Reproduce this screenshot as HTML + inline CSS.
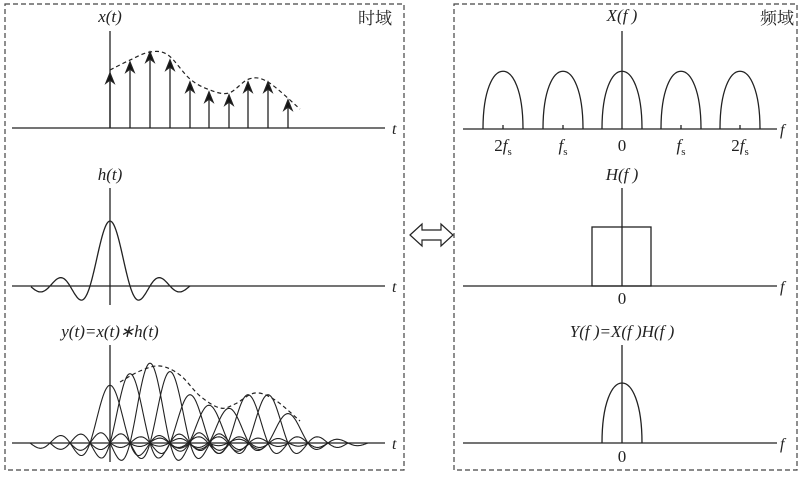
<!DOCTYPE html>
<html><head><meta charset="utf-8"><style>
html,body{margin:0;padding:0;background:#fff}
svg{display:block}
text{font-family:"Liberation Serif","Noto Serif CJK SC",serif;fill:#222}
.i{font-style:italic}
</style></head><body>
<svg id="s" width="802" height="477" viewBox="0 0 802 477" xmlns="http://www.w3.org/2000/svg">
<g fill="none" stroke="#444" stroke-width="1.2" stroke-dasharray="5,3">
<rect x="5" y="4" width="399" height="466"/>
<rect x="454" y="4" width="343" height="466"/>
</g>
<g stroke="#222" stroke-width="1.3" fill="none">
<line x1="12" y1="128" x2="385" y2="128"/>
<line x1="110" y1="31" x2="110" y2="128"/>
<line x1="12" y1="286" x2="385" y2="286"/>
<line x1="110" y1="188" x2="110" y2="305"/>
<line x1="12" y1="443" x2="385" y2="443"/>
<line x1="110" y1="345" x2="110" y2="462"/>
<line x1="463" y1="129" x2="777" y2="129"/>
<line x1="622" y1="31" x2="622" y2="129"/>
<line x1="463" y1="286" x2="777" y2="286"/>
<line x1="622" y1="188" x2="622" y2="286"/>
<line x1="463" y1="443" x2="777" y2="443"/>
<line x1="622" y1="345" x2="622" y2="443"/>
<rect x="592" y="227" width="59" height="59"/>
<path d="M483,129 C483,52 523,52 523,129"/>
<path d="M543,129 C543,52 583,52 583,129"/>
<path d="M602,129 C602,52 642,52 642,129"/>
<path d="M661,129 C661,52 701,52 701,129"/>
<path d="M720,129 C720,52 760,52 760,129"/>
<path d="M602,443 C602,363 642,363 642,443"/>
<line x1="503" y1="125" x2="503" y2="129"/><line x1="563" y1="125" x2="563" y2="129"/>
<line x1="681" y1="125" x2="681" y2="129"/><line x1="740" y1="125" x2="740" y2="129"/>
</g>
<g id="imp" stroke="#222" stroke-width="1.3" fill="none"></g>
<g id="h" stroke="#222" stroke-width="1.3" fill="none"></g>
<g id="y" stroke="#222" stroke-width="1.1" fill="none"></g>
<g id="env" stroke="#222" stroke-width="1.2" fill="none" stroke-dasharray="4,3"></g>
<path d="M410,235 L422,224 L422,230 L441,230 L441,224 L453,235 L441,246 L441,240 L422,240 L422,246 Z" fill="#fff" stroke="#222" stroke-width="1.2"/>
<text x="110" y="22" font-size="17" text-anchor="middle" class="i">x(t)</text>
<text x="358" y="24" font-size="17">时域</text>
<text x="392" y="134" font-size="16" class="i">t</text>
<text x="110" y="180" font-size="17" text-anchor="middle" class="i">h(t)</text>
<text x="392" y="292" font-size="16" class="i">t</text>
<text x="110" y="337" font-size="17" text-anchor="middle" class="i">y(t)=x(t)∗h(t)</text>
<text x="392" y="449" font-size="16" class="i">t</text>
<text x="622" y="21" font-size="17" text-anchor="middle" class="i">X(f )</text>
<text x="760" y="24" font-size="17">频域</text>
<text x="780" y="135" font-size="16" class="i">f</text>
<text x="780" y="292" font-size="16" class="i">f</text>
<text x="780" y="449" font-size="16" class="i">f</text>
<g font-size="17" text-anchor="middle">
<text x="503" y="151"><tspan>2</tspan><tspan class="i">f</tspan><tspan font-size="11" dy="4">s</tspan></text>
<text x="563" y="151"><tspan class="i">f</tspan><tspan font-size="11" dy="4">s</tspan></text>
<text x="622" y="151">0</text>
<text x="681" y="151"><tspan class="i">f</tspan><tspan font-size="11" dy="4">s</tspan></text>
<text x="740" y="151"><tspan>2</tspan><tspan class="i">f</tspan><tspan font-size="11" dy="4">s</tspan></text>
<text x="622" y="180" class="i">H(f )</text>
<text x="622" y="304">0</text>
<text x="622" y="337" class="i">Y(f )=X(f )H(f )</text>
<text x="622" y="462">0</text>
</g>
</svg>
<script>
(function(){
var NS="http://www.w3.org/2000/svg";
function P(g,d,extra){var p=document.createElementNS(NS,"path");p.setAttribute("d",d);if(extra)for(var k in extra)p.setAttribute(k,extra[k]);document.getElementById(g).appendChild(p);}
var xs=[110,130,150,170,190,209,229,248,268,288];
var amp=[55,66,76,68,46,36,33,46,46,28];
function sinc(u){return Math.abs(u)<1e-6?1:Math.sin(Math.PI*u)/(Math.PI*u);}
for(var i=0;i<xs.length;i++){
 var tp=128-amp[i];
 P("imp","M"+xs[i]+",128 L"+xs[i]+","+(tp+6));
 P("imp","M"+(xs[i]-4)+","+(tp+10)+" L"+xs[i]+","+tp+" L"+(xs[i]+4)+","+(tp+10)+" L"+xs[i]+","+(tp+7)+" Z",{fill:"#111"});
}
var d="";for(var x=31;x<=190;x+=1){var y=286-65*sinc((x-110)/20);d+=(x==31?"M":"L")+x+","+y.toFixed(1);}
P("h",d);
for(var i=0;i<xs.length;i++){var d2="";for(var x=xs[i]-80;x<=xs[i]+80;x+=1){var y=443-amp[i]*1.05*sinc((x-xs[i])/20);d2+=(x==xs[i]-80?"M":"L")+x+","+y.toFixed(1);}P("y",d2);}
function cr(pts){var d="M"+pts[0][0]+","+pts[0][1];for(var i=0;i<pts.length-1;i++){var p0=pts[i-1]||pts[i],p1=pts[i],p2=pts[i+1],p3=pts[i+2]||p2;
 d+=" C"+(p1[0]+(p2[0]-p0[0])/6)+","+(p1[1]+(p2[1]-p0[1])/6)+" "+(p2[0]-(p3[0]-p1[0])/6)+","+(p2[1]-(p3[1]-p1[1])/6)+" "+p2[0]+","+p2[1];}return d;}
P("env",cr([[110,70],[130,60],[150,52],[168,55],[190,79],[210,90],[229,93],[249,79],[268,82],[300,109]]));
P("env",cr([[120,382],[140,371],[160,366],[180,375],[200,396],[220,408],[235,404],[255,393],[275,400],[300,421]]));
})();
</script>
</body></html>
